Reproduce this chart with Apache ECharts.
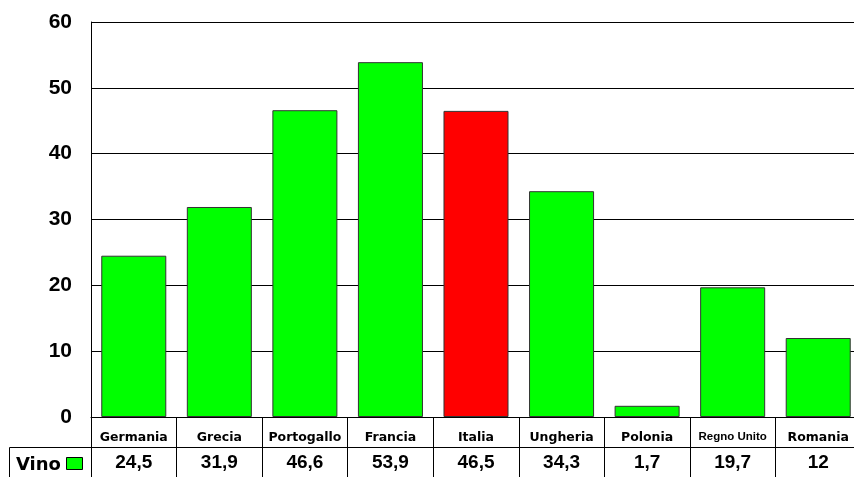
<!DOCTYPE html>
<html><head><meta charset="utf-8">
<script src="https://cdn.jsdelivr.net/npm/echarts@6/dist/echarts.min.js"></script>
<style>html,body{margin:0;padding:0;background:#fff;overflow:hidden;width:854px;height:477px}#c{width:861px;height:477px}</style>
</head><body><div id="c"></div>
<script>
const categories = ['Germania','Grecia','Portogallo','Francia','Italia','Ungheria','Polonia','Regno Unito','Romania'];
const valueLabels = ['24,5','31,9','46,6','53,9','46,5','34,3','1,7','19,7','12'];
const values = [24.5, 31.9, 46.6, 53.9, 46.5, 34.3, 1.7, 19.7, 12];
const seriesName = 'Vino';
const highlight = 'Italia';
const yTicks = [0, 10, 20, 30, 40, 50, 60];

const FONT = '"Liberation Sans", Arial, sans-serif';
const WIDE = '"DejaVu Sans", Verdana, sans-serif';
const GREEN = '#00FF00';
const chart = echarts.init(document.getElementById('c'));
chart.setOption({
  animation: false,
  textStyle: { fontFamily: FONT },
  grid: { left: 91, right: 0, top: 22, bottom: 60 },
  xAxis: [{
    type: 'category', data: categories, position: 'bottom',
    axisLine: { lineStyle: { color: '#000', width: 1 } },
    axisTick: { show: true, length: 60, lineStyle: { color: '#000' } },
    axisLabel: {
      interval: 0, margin: 14, color: '#000', fontFamily: WIDE, fontSize: 12, fontWeight: 'bold',
      formatter: v => v.length > 10 ? '{s|' + v + '}' : '{n|' + v + '}',
      rich: {
        n: { fontSize: 12.5, fontWeight: 'bold', fontFamily: WIDE, color: '#000' },
        s: { fontSize: 11.5, fontWeight: 'bold', fontFamily: FONT, color: '#000' }
      }
    }
  }, {
    type: 'category', data: categories, position: 'bottom', offset: 30,
    axisLine: { lineStyle: { color: '#000', width: 1 } },
    axisTick: { show: false },
    axisLabel: {
      interval: 0, margin: 6, color: '#000', fontFamily: FONT, fontSize: 19, fontWeight: 'bold',
      formatter: (v, i) => valueLabels[i]
    }
  }],
  yAxis: {
    type: 'value', min: yTicks[0], max: yTicks[yTicks.length - 1], interval: 10,
    axisLine: { show: true, lineStyle: { color: '#000' } },
    axisTick: { show: false },
    splitLine: { lineStyle: { color: '#000', width: 1 } },
    axisLabel: { margin: 19, color: '#000', fontFamily: FONT, fontSize: 21, fontWeight: 'bold' }
  },
  series: [{
    name: seriesName, type: 'bar', xAxisIndex: 0,
    barCategoryGap: '24%',
    itemStyle: { color: GREEN, borderColor: '#333', borderWidth: 1 },
    data: values.map((v, i) => categories[i] === highlight
      ? { value: v, itemStyle: { color: '#FF0000' } } : v)
  }],
  graphic: [
    { type: 'line', shape: { x1: 9.5, y1: 447.5, x2: 91, y2: 447.5 }, style: { stroke: '#000', lineWidth: 1 } },
    { type: 'line', shape: { x1: 9.5, y1: 447.5, x2: 9.5, y2: 477 }, style: { stroke: '#000', lineWidth: 1 } },
    { type: 'text', left: 16, top: 456, style: { text: seriesName, fill: '#000', font: 'bold 18px ' + WIDE } },
    { type: 'rect', shape: { x: 66.5, y: 457.5, width: 16, height: 12 }, style: { fill: GREEN, stroke: '#000', lineWidth: 1 } }
  ]
});
</script></body></html>
